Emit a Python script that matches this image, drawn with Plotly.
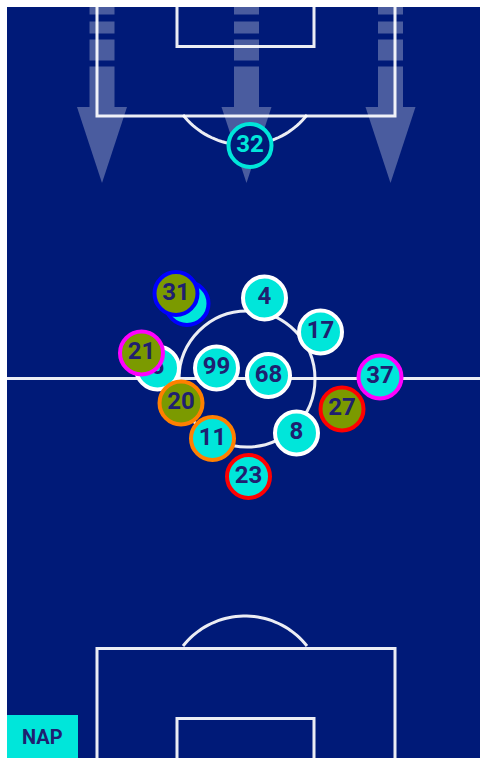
import numpy as np
import plotly.graph_objects as go

# ---------------- data (positions, pitch pixel frame) ----------------
shirt_numbers = ["32", "", "31", "4", "17", "6", "21", "99", "68", "37", "20", "27", "11", "8", "23"]
pos_x = [250, 187, 176, 264.5, 320.5, 157.5, 141.5, 216.5, 268.5, 380, 181, 342, 212.5, 296.5, 248.5]
pos_y = [145.5, 303.5, 293.5, 298, 332, 368, 353, 368, 375.5, 377, 403, 409, 438.5, 433, 476.5]
# role: "gk" = goalkeeper, "start" = starter kept, "off" = substituted off, "on" = substitute on
roles = ["gk", "on", "off", "start", "start", "start", "off", "start", "start", "on", "off", "off", "on", "start", "on"]
sub_pair = [None, "blue", "blue", None, None, None, "magenta", None, None, "magenta",
            "orange", "red", "orange", None, "red"]
team_label = "NAP"
arrow_columns = [102, 246.5, 390.5]

# ---------------- styling ----------------
BG = "#001a78"
CYAN = "#00e6da"
OLIVE = "#7b9a00"
NAVY = "#1f2070"
PAIR_COLORS = {"blue": "#0000ff", "magenta": "#ff00ff", "orange": "#ff8000", "red": "#ff0000"}
LINE = "rgba(255,255,255,0.92)"

fig = go.Figure()

shapes = []
ARROW = "rgba(255,255,255,0.29)"
for cx in arrow_columns:
    for (a, b) in [(0, 14.5), (21.5, 33.5), (39.5, 60.5), (66.5, 107)]:
        shapes.append(dict(type="rect", x0=cx - 12.5, x1=cx + 12.5, y0=a, y1=b,
                           fillcolor=ARROW, line=dict(width=0), layer="below"))
    shapes.append(dict(type="path", path=f"M{cx-25},107 L{cx+25},107 L{cx},183 Z",
                       fillcolor=ARROW, line=dict(width=0), layer="below"))

def lw():
    return dict(color=LINE, width=3)

shapes.append(dict(type="line", x0=0, x1=520, y0=378.5, y1=378.5, line=lw(), layer="below"))
shapes.append(dict(type="circle", x0=179, x1=315, y0=311, y1=447, line=lw(), layer="below"))
shapes.append(dict(type="path", path="M97,-10 L97,116 L395,116 L395,-10", line=lw(), layer="below"))
shapes.append(dict(type="path", path="M177,-10 L177,46.5 L314,46.5 L314,-10", line=lw(), layer="below"))
shapes.append(dict(type="path", path="M97,800 L97,648.5 L395,648.5 L395,800", line=lw(), layer="below"))
shapes.append(dict(type="path", path="M177,800 L177,718.5 L314,718.5 L314,800", line=lw(), layer="below"))

half_chord, sag = 62, 30
r = (half_chord ** 2 + sag ** 2) / (2 * sag)
phi = np.arcsin(half_chord / r)
angs = np.linspace(-phi, phi, 40)
cxm = 245
top_c = 145 - r
pts = [(cxm + r * np.sin(t), top_c + r * np.cos(t)) for t in angs]
shapes.append(dict(type="path", path="M" + " L".join(f"{px:.2f},{py:.2f}" for px, py in pts),
                   line=lw(), layer="below"))
bot_c = 616 + r
pts = [(cxm + r * np.sin(t), bot_c - r * np.cos(t)) for t in angs]
shapes.append(dict(type="path", path="M" + " L".join(f"{px:.2f},{py:.2f}" for px, py in pts),
                   line=lw(), layer="below"))

shapes.append(dict(type="rect", x0=0, x1=78, y0=715, y1=800, fillcolor=CYAN,
                   line=dict(width=0), layer="above"))

for num, x, y, role, pair in zip(shirt_numbers, pos_x, pos_y, roles, sub_pair):
    if role == "gk":
        fill, border, tcol = BG, CYAN, CYAN
    elif role == "off":
        fill, border, tcol = OLIVE, PAIR_COLORS[pair], NAVY
    elif role == "on":
        fill, border, tcol = CYAN, PAIR_COLORS[pair], NAVY
    else:
        fill, border, tcol = CYAN, "#ffffff", NAVY
    fig.add_trace(go.Scatter(
        x=[x], y=[y], mode="markers+text", text=[f"<b>{num}</b>" if num else ""],
        textposition="middle center",
        textfont=dict(family="Roboto", size=24, color=tcol),
        marker=dict(size=43, color=fill, line=dict(color=border, width=4)),
        hoverinfo="skip", showlegend=False, cliponaxis=False,
    ))

fig.add_annotation(x=42.5, y=737, text=f"<b>{team_label}</b>", showarrow=False,
                   font=dict(family="Roboto", size=20, color=NAVY))

fig.update_layout(
    width=480, height=758,
    margin=dict(l=0, r=0, t=0, b=0),
    paper_bgcolor=BG, plot_bgcolor=BG,
    shapes=shapes,
    xaxis=dict(range=[7, 487], visible=False, fixedrange=True),
    yaxis=dict(range=[765, 7], visible=False, fixedrange=True),
    showlegend=False,
)
fig.write_html(
    "out.html",
    post_script=("document.documentElement.style.overflow='hidden';"
                 "document.body.style.overflow='hidden';"
                 "document.body.style.margin='7px 0 0 7px';"),
)
